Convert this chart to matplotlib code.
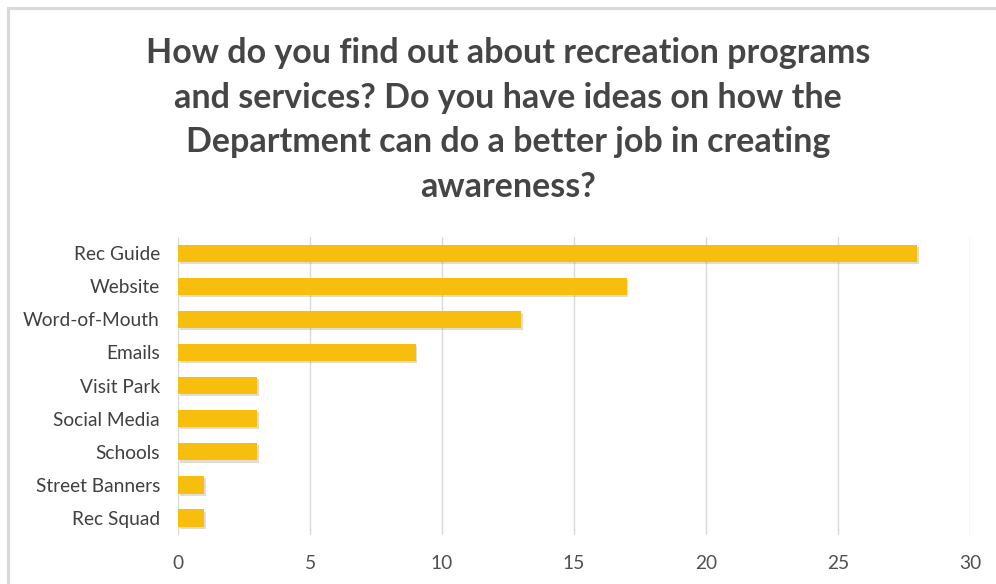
import matplotlib
matplotlib.use("Agg")
import matplotlib.pyplot as plt
from matplotlib.patches import Rectangle
import matplotlib.patheffects as pe

categories = ["Rec Guide", "Website", "Word-of-Mouth", "Emails", "Visit Park",
              "Social Media", "Schools", "Street Banners", "Rec Squad"]
counts = [28, 17, 13, 9, 3, 3, 3, 1, 1]
x_ticks = [0, 5, 10, 15, 20, 25, 30]

title = ("How do you find out about recreation programs\n"
         "and services? Do you have ideas on how the\n"
         "Department can do a better job in creating\n"
         "awareness?")

plt.rcParams["font.family"] = ["Lato", "DejaVu Sans"]

fig = plt.figure(figsize=(9.96, 5.84), dpi=100)
fig.patch.set_facecolor("white")

# outer chart frame
fig.patches.append(Rectangle((8 / 996, -0.05), 1.05, (584 - 8) / 584 + 0.05,
                             transform=fig.transFigure, fill=False,
                             edgecolor="#d9d9d9", linewidth=2.2))

ax = fig.add_axes([178 / 996, 49.4 / 584, 792 / 996, 298 / 584])

y = list(range(len(categories)))
bars = ax.barh(y, counts, height=0.52, color="#F7BE0E", zorder=3)
for b in bars:
    b.set_path_effects([pe.SimplePatchShadow(offset=(1.2, -1.5), shadow_rgbFace="#8a7a50",
                                             alpha=0.25), pe.Normal()])

ax.set_ylim(len(categories) - 0.5, -0.5)
ax.set_xlim(0, 30)
ax.set_xticks(x_ticks)
ax.set_yticks(y)
ax.set_yticklabels(categories)
ax.xaxis.grid(True, color="#d9d9d9", linewidth=1.0, zorder=0)
ax.set_axisbelow(True)
for s in ax.spines.values():
    s.set_visible(False)
ax.tick_params(axis="both", length=0, colors="#404040", labelsize=13.8)
ax.tick_params(axis="y", pad=13)
ax.tick_params(axis="x", pad=15, labelcolor="#505050")

fig.text(508 / 996, 1 - 120 / 584, title, ha="center", va="center",
         fontsize=24.5, fontweight="bold", color="#454545", linespacing=1.48)

fig.savefig("out.png", dpi=100)
